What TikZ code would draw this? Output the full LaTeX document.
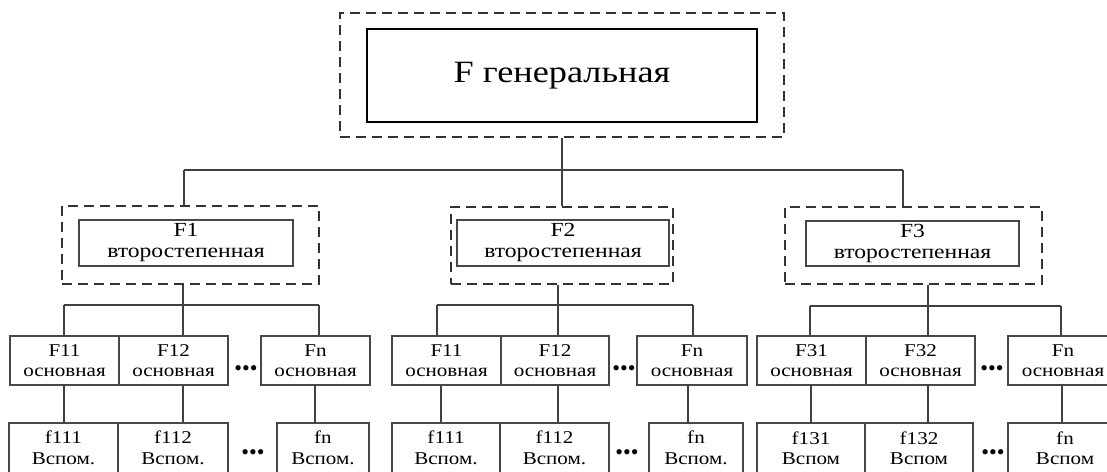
\documentclass[tikz,border=0pt]{standalone}
\usepackage{fontspec}
\setmainfont{Liberation Serif}
\newfontfamily\bigfam{Liberation Serif}[FakeStretch=1.17]
\newfontfamily\secfam{Liberation Serif}[FakeStretch=1.18]
\newfontfamily\rowfam{Liberation Serif}[FakeStretch=1.17]
\newcommand\bigfnt{\fontsize{31}{36}\selectfont\bigfam}
\newcommand\secfnt{\fontsize{20}{21}\selectfont\secfam}
\newcommand\rowfnt{\fontsize{18}{20.5}\selectfont\rowfam}
\begin{document}
\begin{tikzpicture}[x=1pt,y=-1pt,
  line/.style={draw=black!75, line width=1.4pt},
  dbox/.style={draw=black!80, line width=1.5pt, dash pattern=on 10pt off 6pt, inner sep=0pt},
  tbox/.style={draw=black, line width=2.4pt, inner sep=0pt, font=\bigfnt},
  sbox/.style={draw=black!72, line width=1.4pt, inner sep=0pt, align=center, font=\secfnt, minimum height=46pt},
  rbox/.style={draw=black!72, line width=1.4pt, inner sep=0pt, align=center, font=\rowfnt, minimum height=49pt},
  vbox/.style={draw=black!72, line width=1.4pt, inner sep=0pt, align=center, font=\rowfnt, minimum height=50pt},
  dots/.style={inner sep=0pt, font=\fontsize{22}{22}\selectfont}]
\clip (0,0) rectangle (1107,471);
\fill[white] (0,0) rectangle (1107,471);

% top
\node[dbox, minimum width=444pt, minimum height=124pt] (topo) at (562,75) {};
\node[tbox, minimum width=390pt, minimum height=93pt] (top) at (562,75.5) {F генеральная};

% second level
\node[dbox, minimum width=257pt, minimum height=78pt] (g1o) at (190.5,245) {};
\node[sbox, minimum width=214pt] (g1) at (186,243) {F1\\второстепенная};
\node[dbox, minimum width=222pt, minimum height=77pt] (g2o) at (562,245.5) {};
\node[sbox, minimum width=212pt] (g2) at (563,243) {F2\\второстепенная};
\node[dbox, minimum width=257pt, minimum height=77pt] (g3o) at (913.5,245.5) {};
\node[sbox, minimum width=213pt, minimum height=45pt] (g3) at (912.5,243.5) {F3\\второстепенная};

% group 1 rows
\node[rbox, minimum width=109pt] (F11a) at (64.5,360.5) {F11\\основная};
\node[rbox, minimum width=109pt] (F12a) at (173.5,360.5) {F12\\основная};
\node[rbox, minimum width=109pt] (Fna) at (315.5,360.5) {Fn\\основная};
\node[vbox, minimum width=109pt] (f111a) at (63.5,448) {f111\\Вспом.};
\node[vbox, minimum width=110pt] (f112a) at (173,448) {f112\\Вспом.};
\node[vbox, minimum width=92pt] (fna) at (323,448) {fn\\Вспом.};
\node[dots] (d1a) at (246,371) {•••};
\node[dots] (d1b) at (253,455) {•••};

% group 2 rows
\node[rbox, minimum width=109pt] (F11b) at (446.5,360.5) {F11\\основная};
\node[rbox, minimum width=108pt] (F12b) at (555,360.5) {F12\\основная};
\node[rbox, minimum width=110pt] (Fnb) at (692,360.5) {Fn\\основная};
\node[vbox, minimum width=108pt] (f111b) at (446,448) {f111\\Вспом.};
\node[vbox, minimum width=109pt] (f112b) at (554.5,448) {f112\\Вспом.};
\node[vbox, minimum width=94pt] (fnb) at (696,448) {fn\\Вспом.};
\node[dots] (d2a) at (624,371) {•••};
\node[dots] (d2b) at (627,455) {•••};

% group 3 rows
\node[rbox, minimum width=109pt] (F31) at (811.5,360.5) {F31\\основная};
\node[rbox, minimum width=109pt] (F32) at (920.5,360.5) {F32\\основная};
\node[rbox, minimum width=110pt] (Fnc) at (1063,360.5) {Fn\\основная};
\node[vbox, minimum width=108pt] (f131) at (811,448) {f131\\Вспом};
\node[vbox, minimum width=108pt] (f132) at (919,448) {f132\\Вспом};
\node[vbox, minimum width=114pt] (fnc) at (1065,448) {fn\\Вспом};
\node[dots] (d3a) at (992,371) {•••};
\node[dots] (d3b) at (993,455) {•••};

% top connectors
\coordinate (b1) at (184,170);
\coordinate (b3) at (903,170);
\draw[line] (topo.south) -- (g2o.north);
\draw[line] (b1) -- (b3);
\draw[line] (b1) -- (b1 |- g1o.north);
\draw[line] (b3) -- (b3 |- g3o.north);

% group 1 connectors
\coordinate (h1l) at (64,305);
\coordinate (h1m) at (183,305);
\coordinate (h1r) at (319,305);
\coordinate (v1r) at (315,0);
\draw[line] (h1l) -- (h1r);
\draw[line] (h1m |- g1o.south) -- (h1m |- F12a.north);
\draw[line] (h1l) -- (h1l |- F11a.north);
\draw[line] (h1r) -- (h1r |- Fna.north);
\draw[line] (h1l |- F11a.south) -- (h1l |- f111a.north);
\draw[line] (h1m |- F12a.south) -- (h1m |- f112a.north);
\draw[line] (v1r |- Fna.south) -- (v1r |- fna.north);

% group 2 connectors
\coordinate (h2l) at (437,305);
\coordinate (h2m) at (558,305);
\coordinate (h2r) at (693,305);
\coordinate (v2l) at (441,0);
\coordinate (v2r) at (688,0);
\draw[line] (h2l) -- (h2r);
\draw[line] (h2m |- g2o.south) -- (h2m |- F12b.north);
\draw[line] (h2l) -- (h2l |- F11b.north);
\draw[line] (h2r) -- (h2r |- Fnb.north);
\draw[line] (v2l |- F11b.south) -- (v2l |- f111b.north);
\draw[line] (h2m |- F12b.south) -- (h2m |- f112b.north);
\draw[line] (v2r |- Fnb.south) -- (v2r |- fnb.north);

% group 3 connectors
\coordinate (h3l) at (810,306);
\coordinate (h3m) at (928,306);
\coordinate (h3r) at (1061,306);
\coordinate (v3l) at (811,0);
\coordinate (v3r) at (1062,0);
\draw[line] (h3l) -- (h3r);
\draw[line] (h3m |- g3o.south) -- (h3m |- F32.north);
\draw[line] (h3l) -- (h3l |- F31.north);
\draw[line] (h3r) -- (h3r |- Fnc.north);
\draw[line] (v3l |- F31.south) -- (v3l |- f131.north);
\draw[line] (h3m |- F32.south) -- (h3m |- f132.north);
\draw[line] (v3r |- Fnc.south) -- (v3r |- fnc.north);
\end{tikzpicture}
\end{document}
